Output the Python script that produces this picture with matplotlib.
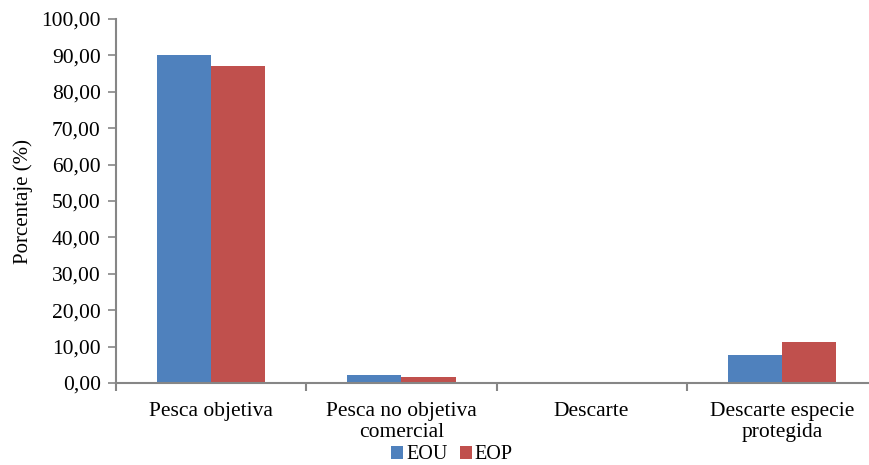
import numpy as np
import matplotlib.pyplot as plt
from matplotlib.ticker import FuncFormatter, FixedLocator

categories = ['Pesca objetiva', 'Pesca no objetiva\ncomercial', 'Descarte',
              'Descarte especie\nprotegida']
eou = [90.2, 2.2, 0.0, 7.6]
eop = [87.0, 1.7, 0.0, 11.3]
series_names = ['EOU', 'EOP']
colors = ['#4F81BD', '#C0504D']

plt.rcParams['font.family'] = ['Liberation Serif', 'DejaVu Serif']
plt.rcParams['font.size'] = 15.5

fig = plt.figure(figsize=(8.69, 4.65), dpi=100)
ax = fig.add_axes([116 / 869, 82 / 465, 761 / 869, 364 / 465])

x = np.arange(len(categories))
w = 0.285
ax.bar(x - w / 2, eou, w, color=colors[0], label=series_names[0])
ax.bar(x + w / 2, eop, w, color=colors[1], label=series_names[1])

ax.set_xlim(-0.5, len(categories) - 0.5)
ax.set_ylim(0, 100)
ax.set_yticks(np.arange(0, 101, 10))
ax.yaxis.set_major_formatter(FuncFormatter(lambda v, p: f'{v:.2f}'.replace('.', ',')))
ax.set_ylabel('Porcentaje (%)', fontsize=15, labelpad=6)

ax.set_xticks(x)
ax.set_xticklabels(categories, linespacing=1.1)
ax.tick_params(axis='x', which='major', length=0, pad=14)
ax.xaxis.set_minor_locator(FixedLocator(np.arange(-0.5, len(categories), 1)))
ax.tick_params(axis='x', which='minor', length=6, color='#868686', width=1.5)
ax.tick_params(axis='y', length=6, color='#868686', width=1.2, pad=5)

for s in ['top', 'right']:
    ax.spines[s].set_visible(False)
for s in ['left', 'bottom']:
    ax.spines[s].set_color('#868686')
    ax.spines[s].set_linewidth(1.5)

ax.legend(loc='lower center', bbox_to_anchor=(452 / 869, -0.016), bbox_transform=fig.transFigure,
          ncol=2, frameon=False, fontsize=14.5, handlelength=0.6, handleheight=0.6,
          handletextpad=0.15, columnspacing=0.6, borderaxespad=0)

fig.savefig('out.png', dpi=100)
